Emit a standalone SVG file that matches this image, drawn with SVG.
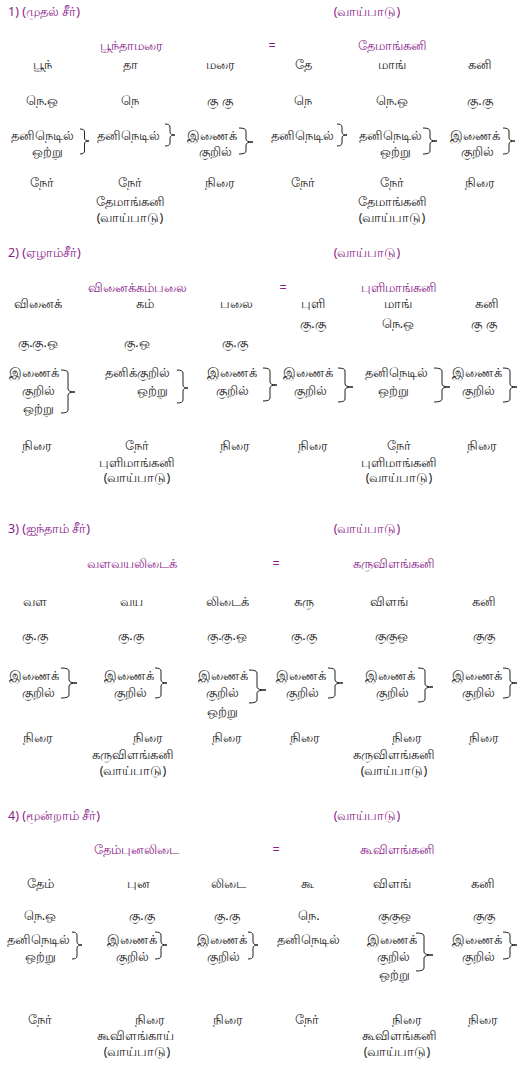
<svg xmlns="http://www.w3.org/2000/svg" width="525" height="1074" viewBox="0 0 525 1074">
<style>
text{font-family:"Noto Sans","DejaVu Sans",sans-serif;font-size:12.5px;fill:#222}
.p{fill:#8b1c8b}
.c{text-anchor:middle}
.b{fill:none;stroke:#222;stroke-width:1}
</style>
<rect width="525" height="1074" fill="#fff"/>
<g id="sec1">
<text class="p" x="8" y="16">1) (முதல் சீர்)</text>
<text class="p c" x="367" y="16">(வாய்பாடு)</text>
<text class="p c" x="131" y="50">பூந்தாமரை</text>
<text class="p c" x="272" y="50">=</text>
<text class="p c" x="392" y="50">தேமாங்கனி</text>
<text class="c" x="42" y="69">பூந்</text>
<text class="c" x="130" y="69">தா</text>
<text class="c" x="220" y="69">மரை</text>
<text class="c" x="303" y="69">தே</text>
<text class="c" x="392" y="69">மாங்</text>
<text class="c" x="480" y="69">கனி</text>
<text class="c" x="42" y="105">நெ.ஒ</text>
<text class="c" x="130" y="105">நெ</text>
<text class="c" x="220" y="105">கு கு</text>
<text class="c" x="303" y="105">நெ</text>
<text class="c" x="392" y="105">நெ.ஒ</text>
<text class="c" x="480" y="105">கு.கு</text>
<text class="c" x="42" y="140">தனிநெடில்</text>
<text class="c" x="47" y="156">ஒற்று</text>
<text class="c" x="128" y="140">தனிநெடில்</text>
<text class="c" x="212" y="140">இணைக்</text>
<text class="c" x="215" y="156">குறில்</text>
<text class="c" x="302" y="140">தனிநெடில்</text>
<text class="c" x="390" y="140">தனிநெடில்</text>
<text class="c" x="395" y="156">ஒற்று</text>
<text class="c" x="475" y="140">இணைக்</text>
<text class="c" x="477" y="156">குறில்</text>
<path class="b" d="M80 129Q84.5 129 84.5 132V138Q84.5 141 89 141Q84.5 141 84.5 144V151Q84.5 154 80 154"/>
<path class="b" d="M165 124Q170 124 170 127V132Q170 135 175 135Q170 135 170 138V143Q170 146 165 146"/>
<path class="b" d="M239 128Q246 128 246 131V139Q246 142 253 142Q246 142 246 145V151Q246 154 239 154"/>
<path class="b" d="M337 124Q342 124 342 127V132Q342 135 347 135Q342 135 342 138V143Q342 146 337 146"/>
<path class="b" d="M423 128Q430 128 430 131V138Q430 141 437 141Q430 141 430 144V151Q430 154 423 154"/>
<path class="b" d="M503 128Q509 128 509 131V138Q509 141 515 141Q509 141 509 144V151Q509 154 503 154"/>
<text class="c" x="42" y="187">நேர்</text>
<text class="c" x="130" y="187">நேர்</text>
<text class="c" x="130" y="206">தேமாங்கனி</text>
<text class="c" x="130" y="222">(வாய்பாடு)</text>
<text class="c" x="220" y="187">நிரை</text>
<text class="c" x="303" y="187">நேர்</text>
<text class="c" x="392" y="187">நேர்</text>
<text class="c" x="392" y="206">தேமாங்கனி</text>
<text class="c" x="392" y="222">(வாய்பாடு)</text>
<text class="c" x="480" y="187">நிரை</text>
</g>
<g id="sec2">
<text class="p" x="8" y="257">2) (ஏழாம்சீர்)</text>
<text class="p c" x="367" y="257">(வாய்பாடு)</text>
<text class="p c" x="137" y="292">வினைக்கம்பலை</text>
<text class="p c" x="283" y="292">=</text>
<text class="p c" x="399" y="292">புளிமாங்கனி</text>
<text class="c" x="38" y="308">வினைக்</text>
<text class="c" x="145" y="308">கம்</text>
<text class="c" x="236" y="308">பலை</text>
<text class="c" x="313" y="308">புளி</text>
<text class="c" x="398" y="308">மாங்</text>
<text class="c" x="487" y="308">கனி</text>
<text class="c" x="313" y="328">கு.கு</text>
<text class="c" x="398" y="328">நெ.ஒ</text>
<text class="c" x="484" y="328">கு கு</text>
<text class="c" x="38" y="347">கு.கு.ஒ</text>
<text class="c" x="137" y="347">கு.ஒ</text>
<text class="c" x="235" y="347">கு.கு</text>
<text class="c" x="34" y="377">இணைக்</text>
<text class="c" x="38" y="395">குறில்</text>
<text class="c" x="38" y="413">ஒற்று</text>
<text class="c" x="137" y="377">தனிக்குறில்</text>
<text class="c" x="152" y="395">ஒற்று</text>
<text class="c" x="232" y="377">இணைக்</text>
<text class="c" x="232" y="395">குறில்</text>
<text class="c" x="308" y="377">இணைக்</text>
<text class="c" x="310" y="395">குறில்</text>
<text class="c" x="396" y="377">தனிநெடில்</text>
<text class="c" x="393" y="395">ஒற்று</text>
<text class="c" x="477" y="377">இணைக்</text>
<text class="c" x="478" y="395">குறில்</text>
<path class="b" d="M61 370Q68 370 68 373V389Q68 392 75 392Q68 392 68 395V410Q68 413 61 413"/>
<path class="b" d="M177 370Q183 370 183 373V385Q183 388 188 388Q183 388 183 391V400Q183 403 177 403"/>
<path class="b" d="M263 368Q270 368 270 371V382Q270 385 277 385Q270 385 270 388V398Q270 401 263 401"/>
<path class="b" d="M338 368Q345 368 345 371V384Q345 387 353 387Q345 387 345 390V399Q345 402 338 402"/>
<path class="b" d="M434 368Q442 368 442 371V384Q442 387 450 387Q442 387 442 390V399Q442 402 434 402"/>
<path class="b" d="M503 368Q510 368 510 371V384Q510 387 517 387Q510 387 510 390V399Q510 402 503 402"/>
<text class="c" x="37" y="450">நிரை</text>
<text class="c" x="137" y="450">நேர்</text>
<text class="c" x="137" y="467">புளிமாங்கனி</text>
<text class="c" x="137" y="482">(வாய்பாடு)</text>
<text class="c" x="235" y="450">நிரை</text>
<text class="c" x="313" y="450">நிரை</text>
<text class="c" x="399" y="450">நேர்</text>
<text class="c" x="399" y="467">புளிமாங்கனி</text>
<text class="c" x="399" y="482">(வாய்பாடு)</text>
<text class="c" x="482" y="450">நிரை</text>
</g>
<g id="sec3">
<text class="p" x="8" y="533">3) (ஐந்தாம் சீர்)</text>
<text class="p c" x="367" y="533">(வாய்பாடு)</text>
<text class="p c" x="132" y="568">வளவயலிடைக்</text>
<text class="p c" x="276" y="568">=</text>
<text class="p c" x="394" y="568">கருவிளங்கனி</text>
<text class="c" x="35" y="606">வள</text>
<text class="c" x="131" y="606">வய</text>
<text class="c" x="227" y="606">லிடைக்</text>
<text class="c" x="304" y="606">கரு</text>
<text class="c" x="389" y="606">விளங்</text>
<text class="c" x="484" y="606">கனி</text>
<text class="c" x="35" y="640">கு.கு</text>
<text class="c" x="131" y="640">கு.கு</text>
<text class="c" x="227" y="640">கு.கு.ஒ</text>
<text class="c" x="304" y="640">கு.கு</text>
<text class="c" x="391" y="640">குகுஒ</text>
<text class="c" x="484" y="640">குகு</text>
<text class="c" x="34" y="680">இணைக்</text>
<text class="c" x="38" y="697">குறில்</text>
<text class="c" x="129" y="680">இணைக்</text>
<text class="c" x="130" y="697">குறில்</text>
<text class="c" x="223" y="680">இணைக்</text>
<text class="c" x="222" y="697">குறில்</text>
<text class="c" x="222" y="716">ஒற்று</text>
<text class="c" x="301" y="680">இணைக்</text>
<text class="c" x="302" y="697">குறில்</text>
<text class="c" x="390" y="680">இணைக்</text>
<text class="c" x="392" y="697">குறில்</text>
<text class="c" x="477" y="680">இணைக்</text>
<text class="c" x="478" y="697">குறில்</text>
<path class="b" d="M61 668Q69 668 69 671V680Q69 683 77 683Q69 683 69 686V695Q69 698 61 698"/>
<path class="b" d="M155 668Q161 668 161 671V680Q161 683 167 683Q161 683 161 686V695Q161 698 155 698"/>
<path class="b" d="M249 670Q257 670 257 673V687Q257 690 266 690Q257 690 257 693V700Q257 703 249 703"/>
<path class="b" d="M328 668Q335 668 335 671V680Q335 683 343 683Q335 683 335 686V695Q335 698 328 698"/>
<path class="b" d="M418 668Q425 668 425 671V684Q425 687 433 687Q425 687 425 690V699Q425 702 418 702"/>
<path class="b" d="M503 668Q510 668 510 671V680Q510 683 517 683Q510 683 510 686V695Q510 698 503 698"/>
<text class="c" x="38" y="742">நிரை</text>
<text class="c" x="148" y="742">நிரை</text>
<text class="c" x="133" y="759">கருவிளங்கனி</text>
<text class="c" x="133" y="775">(வாய்பாடு)</text>
<text class="c" x="227" y="742">நிரை</text>
<text class="c" x="305" y="742">நிரை</text>
<text class="c" x="407" y="742">நிரை</text>
<text class="c" x="394" y="759">கருவிளங்கனி</text>
<text class="c" x="394" y="775">(வாய்பாடு)</text>
<text class="c" x="484" y="742">நிரை</text>
</g>
<g id="sec4">
<text class="p" x="8" y="820">4) (மூன்றாம் சீர்)</text>
<text class="p c" x="367" y="820">(வாய்பாடு)</text>
<text class="p c" x="136" y="854">தேம்புனலிடை</text>
<text class="p c" x="276" y="854">=</text>
<text class="p c" x="397" y="854">கூவிளங்கனி</text>
<text class="c" x="40" y="888">தேம்</text>
<text class="c" x="138" y="888">புன</text>
<text class="c" x="228" y="888">லிடை</text>
<text class="c" x="307" y="888">கூ</text>
<text class="c" x="392" y="888">விளங்</text>
<text class="c" x="483" y="888">கனி</text>
<text class="c" x="40" y="920">நெ.ஒ</text>
<text class="c" x="142" y="920">கு.கு</text>
<text class="c" x="227" y="920">கு.கு</text>
<text class="c" x="309" y="920">நெ.</text>
<text class="c" x="394" y="920">குகுஒ</text>
<text class="c" x="484" y="920">குகு</text>
<text class="c" x="38" y="944">தனிநெடில்</text>
<text class="c" x="40" y="961">ஒற்று</text>
<text class="c" x="132" y="944">இணைக்</text>
<text class="c" x="132" y="961">குறில்</text>
<text class="c" x="222" y="944">இணைக்</text>
<text class="c" x="223" y="961">குறில்</text>
<text class="c" x="308" y="944">தனிநெடில்</text>
<text class="c" x="392" y="944">இணைக்</text>
<text class="c" x="393" y="961">குறில்</text>
<text class="c" x="394" y="979">ஒற்று</text>
<text class="c" x="477" y="944">இணைக்</text>
<text class="c" x="478" y="961">குறில்</text>
<path class="b" d="M72 932Q77 932 77 935V942Q77 945 82 945Q77 945 77 948V956Q77 959 72 959"/>
<path class="b" d="M155 932Q161 932 161 935V942Q161 945 167 945Q161 945 161 948V956Q161 959 155 959"/>
<path class="b" d="M248 932Q253 932 253 935V942Q253 945 258 945Q253 945 253 948V956Q253 959 248 959"/>
<path class="b" d="M416 933Q424 933 424 936V952Q424 955 433 955Q424 955 424 958V968Q424 971 416 971"/>
<path class="b" d="M503 932Q510 932 510 935V942Q510 945 517 945Q510 945 510 948V956Q510 959 503 959"/>
<text class="c" x="40" y="1024">நேர்</text>
<text class="c" x="150" y="1024">நிரை</text>
<text class="c" x="135" y="1040">கூவிளங்காய்</text>
<text class="c" x="137" y="1056">(வாய்பாடு)</text>
<text class="c" x="228" y="1024">நிரை</text>
<text class="c" x="307" y="1024">நேர்</text>
<text class="c" x="407" y="1024">நிரை</text>
<text class="c" x="399" y="1040">கூவிளங்கனி</text>
<text class="c" x="397" y="1056">(வாய்பாடு)</text>
<text class="c" x="483" y="1024">நிரை</text>
</g>
</svg>
